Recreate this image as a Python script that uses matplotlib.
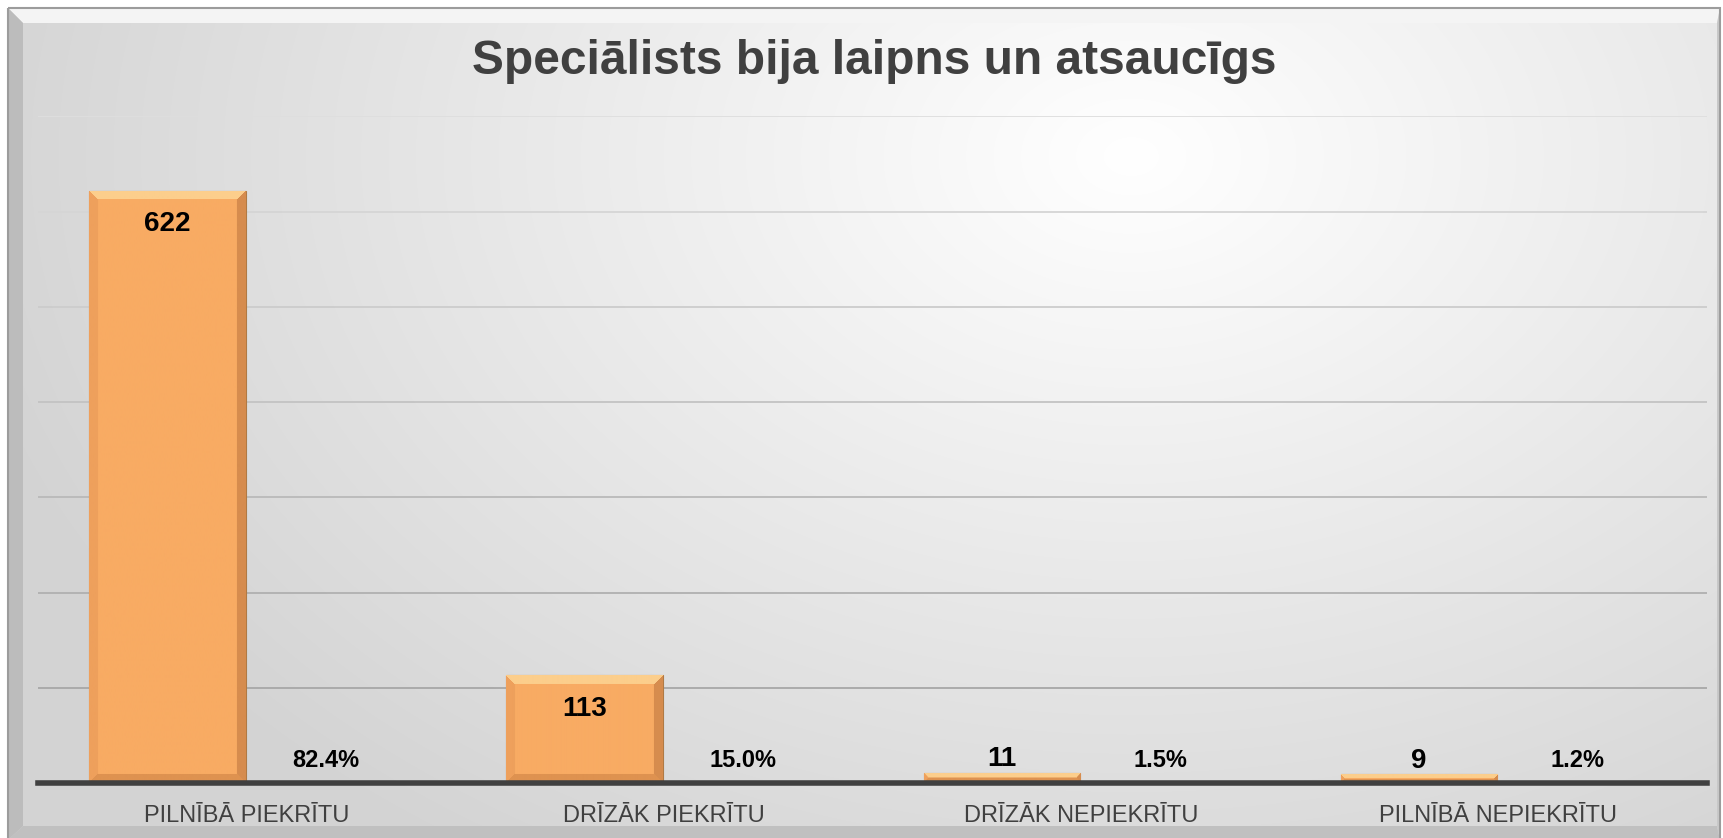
import numpy as np
import matplotlib
matplotlib.use('Agg')
from matplotlib import pyplot as plt
from matplotlib.patches import Rectangle, Polygon

plt.rcParams['font.family'] = ['Liberation Sans', 'DejaVu Sans']

# data
title = 'Speciālists bija laipns un atsaucīgs'
categories = ['PILNĪBĀ PIEKRĪTU', 'DRĪZĀK PIEKRĪTU', 'DRĪZĀK NEPIEKRĪTU', 'PILNĪBĀ NEPIEKRĪTU']
counts = [622, 113, 11, 9]
percents = [82.4, 15.0, 1.5, 1.2]

W, H = 1723, 838
fig = plt.figure(figsize=(W / 100, H / 100), dpi=100)
fig.patch.set_facecolor('white')

# background panel with soft radial light
bg = fig.add_axes([0, 0, 1, 1], zorder=0)
bg.set_xlim(0, W)
bg.set_ylim(H, 0)
bg.axis('off')
yy, xx = np.mgrid[0:H, 0:W]
d = np.sqrt(((xx - 1130) / 1000.0) ** 2 + ((yy - 150) / 700.0) ** 2)
shade = 1.0 - 0.17 * np.clip(d, 0, 1.2) / 1.2
img = np.dstack([shade, shade, shade])
bg.imshow(img, extent=[8, 1720, 840, 8], aspect='auto', zorder=0)

# bevelled frame
bw = 15
bg.add_patch(Polygon([[8, 8], [1720, 8], [1720 - 3, 8 + bw], [8 + bw, 8 + bw]],
                     closed=True, facecolor='#f4f4f4', edgecolor='none', zorder=1))
bg.add_patch(Polygon([[8, 8], [8 + bw, 8 + bw], [8 + bw, 826], [8, 840]],
                     closed=True, facecolor='#bcbcbc', edgecolor='none', zorder=1))
bg.add_patch(Polygon([[8, 840], [8 + bw, 826], [1717, 826], [1720, 840]],
                     closed=True, facecolor='#c0c0c0', edgecolor='none', zorder=1))
bg.add_patch(Polygon([[1720, 8], [1720, 840], [1717, 826], [1717, 8 + bw]],
                     closed=True, facecolor='#c8c8c8', edgecolor='none', zorder=1))
bg.add_patch(Rectangle((8, 8), 1712, 840, facecolor='none', edgecolor='#9c9c9c', lw=1.5, zorder=2))

bg.text(874, 61, title, ha='center', va='center', fontsize=34.5,
        fontweight='bold', color='#404040', zorder=3)

# main chart
left, right, base, top = 38, 1707, 783, 116.5
ax = fig.add_axes([left / W, (H - base) / H, (right - left) / W, (base - top) / H], zorder=2)
ax.patch.set_alpha(0)

x = np.arange(len(categories))
width = 0.375
off = 0.19

ax.set_xlim(-0.5, len(categories) - 0.5)
ax.set_ylim(0, 700)
ax.set_yticks(np.arange(0, 701, 100))
ax.yaxis.grid(True, lw=1.3)
ax.set_axisbelow(True)
glines = ax.yaxis.get_gridlines()
for i, gl in enumerate(glines):
    t = i / (len(glines) - 1)
    c = 0.62 + 0.25 * t
    gl.set_color((c, c, c))
ax.tick_params(axis='y', left=False, labelleft=False)
ax.tick_params(axis='x', bottom=False, pad=12, labelsize=17, labelcolor='#404040')
ax.set_xticks(x)
ax.set_xticklabels(categories)
for s in ['top', 'right', 'left']:
    ax.spines[s].set_visible(False)
ax.spines['bottom'].set_color('#404040')
ax.spines['bottom'].set_linewidth(4)
ax.spines['bottom'].set_zorder(5)

bars = ax.bar(x - off, counts, width, color='#f8ab63', edgecolor='#b07a44', lw=0.8, zorder=3)
pbars = ax.bar(x + off, [p / 100 for p in percents], width, color='none', edgecolor='none', zorder=3)

# bevel shading drawn inside each bar
fig.canvas.draw()
base_c = np.array([248, 171, 99]) / 255
top_c = np.array([252, 206, 140]) / 255
right_c = np.array([214, 140, 78]) / 255
left_c = np.array([238, 160, 92]) / 255
bot_c = np.array([222, 146, 80]) / 255
for b in bars:
    x0, y0 = ax.transData.transform((b.get_x(), 0))
    x1, y1 = ax.transData.transform((b.get_x() + b.get_width(), b.get_height()))
    pw, ph = int(round(x1 - x0)), max(int(round(y1 - y0)), 2)
    bev = min(9, ph / 2.0)
    py, px = np.mgrid[0:ph, 0:pw]
    dt = py + 0.5
    db = ph - py - 0.5
    dl = px + 0.5
    dr = pw - px - 0.5
    arr = np.tile(base_c, (ph, pw, 1))
    m = np.minimum(np.minimum(dt, db), np.minimum(dl, dr))
    edge = m < bev
    for dist, col in [(dl, left_c), (dr, right_c), (db, bot_c), (dt, top_c)]:
        sel = edge & (dist == m)
        arr[sel] = col
    im = ax.imshow(arr, extent=[b.get_x(), b.get_x() + b.get_width(), 0, b.get_height()],
                   aspect='auto', zorder=3.5, interpolation='bilinear')
    im.set_clip_path(b)
ax.set_xlim(-0.5, len(categories) - 0.5)
ax.set_ylim(0, 700)

for b, v in zip(bars, counts):
    cx = b.get_x() + b.get_width() / 2
    dy = -24 if v > 60 else 10
    ax.annotate(str(v), (cx, v), xytext=(0, dy), textcoords='offset points',
                ha='center', va='center', fontsize=20, fontweight='bold', color='black', zorder=6)

for b, p in zip(pbars, percents):
    cx = b.get_x() + b.get_width() / 2
    ax.annotate(f'{p:.1f}%', (cx, 0), xytext=(0, 16), textcoords='offset points',
                ha='center', va='center', fontsize=17, fontweight='bold', color='black', zorder=6)

fig.savefig('out.png', dpi=100)
